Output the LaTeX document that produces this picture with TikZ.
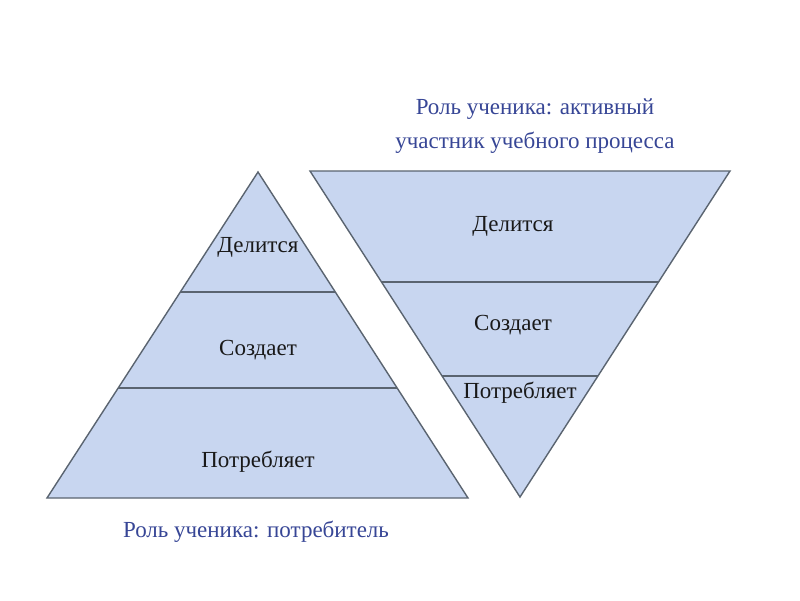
\documentclass[tikz,border=0pt]{standalone}
\usepackage{fontspec}
\setmainfont{Liberation Serif}
\usepackage{tikz}
\usetikzlibrary{positioning, calc}
\definecolor{layerfill}{RGB}{200,214,240}
\definecolor{layerline}{RGB}{90,100,112}
\definecolor{captionblue}{RGB}{55,70,150}

\begin{document}
\begin{tikzpicture}[
  x=1pt, y=-1pt,
  layer/.style={fill=layerfill, draw=layerline, line width=1.4pt, line join=miter},
  divider/.style={draw=layerline, line width=1.6pt},
  level/.style={font=\fontsize{23}{26}\selectfont, text=black!90},
  caption/.style={font=\fontsize{23}{34}\selectfont, text=captionblue, align=center}
]
  \useasboundingbox[fill=white] (0,0) rectangle (800,600);

  %% Pyramid: passive role
  \coordinate (ltop) at (258,172);
  \coordinate (lbl) at (47,498);
  \coordinate (lbr) at (468,498);
  \filldraw[layer] (ltop) -- (lbl) -- (lbr) -- cycle;
  \draw[divider] ($(ltop)!0.368!(lbl)$) -- ($(ltop)!0.368!(lbr)$);
  \draw[divider] ($(ltop)!0.663!(lbl)$) -- ($(ltop)!0.663!(lbr)$);

  \node[level] (lshare) at (258,247) {Делится};
  \node[level] (lcreate) at (258,350) {Создает};
  \node[level] (lconsume) at (258,462) {Потребляет};
  \node[caption] (lcap) at (256,532) {Роль ученика: потребитель};

  %% Inverted pyramid: active role
  \coordinate (rtl) at (310,171);
  \coordinate (rtr) at (730,171);
  \coordinate (rbot) at (520,497);
  \filldraw[layer] (rtl) -- (rtr) -- (rbot) -- cycle;
  \draw[divider] ($(rtl)!0.340!(rbot)$) -- ($(rtr)!0.340!(rbot)$);
  \draw[divider] ($(rtl)!0.629!(rbot)$) -- ($(rtr)!0.629!(rbot)$);

  \node[level] (rshare) at (513,226) {Делится};
  \node[level] (rcreate) at (513,325) {Создает};
  \node[level] (rconsume) at (520,393) {Потребляет};
  \node[caption] (rcap) at (535,126)
    {Роль ученика: активный\\участник учебного процесса};
\end{tikzpicture}
\end{document}
